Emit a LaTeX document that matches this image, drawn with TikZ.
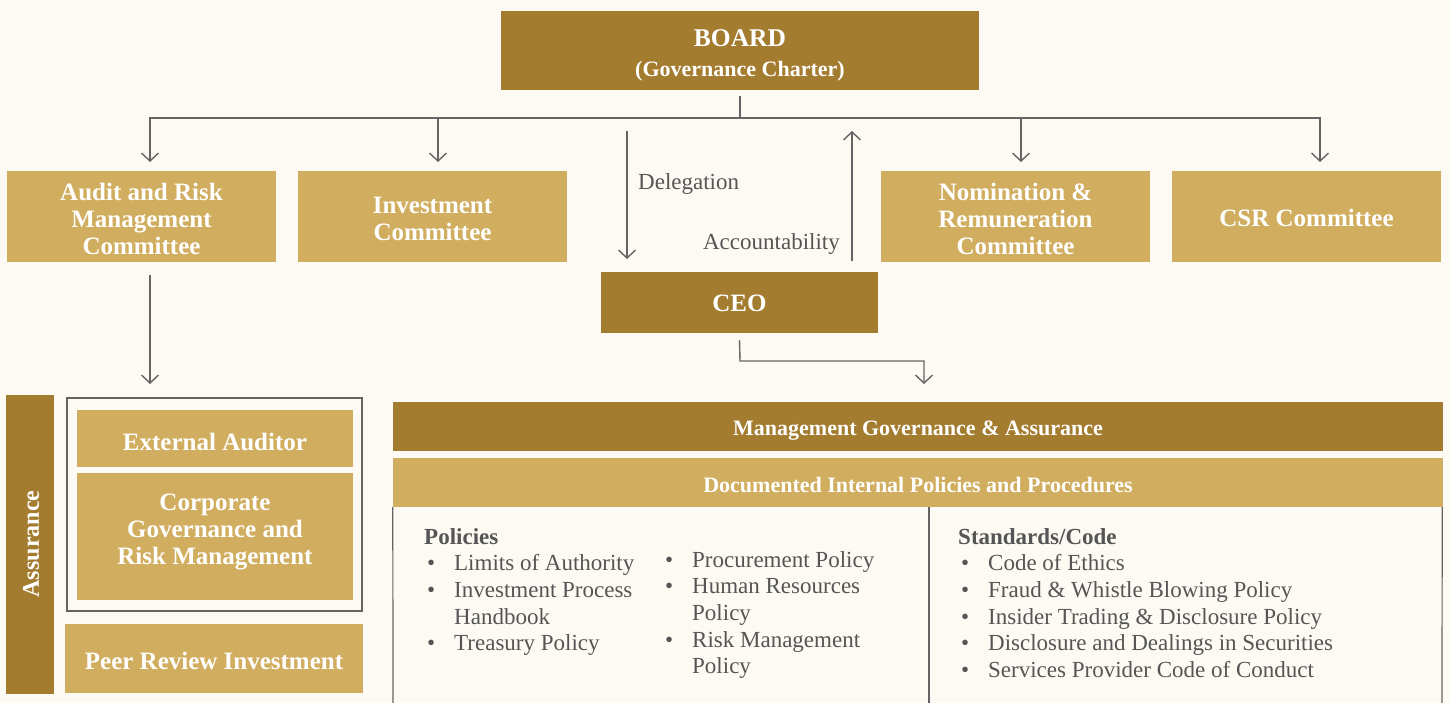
\documentclass[tikz,border=0pt]{standalone}
\usepackage{fontspec}
\setmainfont{Liberation Serif}
\usetikzlibrary{arrows.meta}
\definecolor{dgold}{HTML}{A47C2F}
\definecolor{lgold}{HTML}{D1AE5F}
\definecolor{bgc}{HTML}{FCFAF3}
\definecolor{txt}{HTML}{555555}
\definecolor{lin}{HTML}{646464}
\newcommand{\bul}{\hspace{3pt}\textbullet}
\begin{document}
\begin{tikzpicture}[x=1pt,y=-1pt,
  box/.style={inner sep=0pt, align=center, text=white, font=\bfseries\fontsize{25}{27}\selectfont},
  dbox/.style={box, fill=dgold},
  lbox/.style={box, fill=lgold},
  bandtxt/.style={box, font=\bfseries\fontsize{22}{26}\selectfont},
  band/.style={inner sep=0pt, minimum width=1050pt, minimum height=49pt},
  comm/.style={lbox, minimum width=269pt, minimum height=91pt},
  conn/.style={draw=lin, line width=1.4pt},
  arr/.style={conn, -{Straight Barb[length=8pt,width=17pt,line width=1.4pt]}},
  lbl/.style={text=txt, font=\fontsize{23}{26.7}\selectfont, inner sep=0pt},
  frame/.style={draw=lin, line width=1.2pt},
]
\fill[bgc] (0,0) rectangle (1450,703);
\useasboundingbox (0,0) rectangle (1450,703);

% Board
\node[dbox, minimum width=478pt, minimum height=79pt] (board) at (740,50.5) {};
\node[box, font=\bfseries\fontsize{22}{30}\selectfont] (boardt) at ([yshift=-5pt]board.center)
  {{\fontsize{25.5}{30}\selectfont BOARD}\\(Governance Charter)};

% Committees
\node[comm] (audit) at (141.5,216.5) {};
\node[comm] (invest) at (432.5,216.5) {};
\node[comm] (nomin) at (1015.5,216.5) {};
\node[comm] (csr) at (1306.5,216.5) {};
\node[box] (auditt) at ([yshift=-2pt]audit.center) {Audit and Risk\\Management\\Committee};
\node[box] (investt) at ([yshift=-2pt]invest.center) {Investment\\Committee};
\node[box] (nomint) at ([yshift=-2pt]nomin.center) {Nomination \&\\Remuneration\\Committee};
\node[box] (csrt) at ([yshift=-1pt]csr.center) {CSR Committee};

% CEO
\node[dbox, minimum width=277pt, minimum height=61pt] (ceo) at (739.5,302.5) {};
\node[box] (ceot) at ([yshift=-1pt]ceo.center) {CEO};

% Board connectors
\coordinate (bus) at (740,118);
\coordinate (t1) at (150,162);
\coordinate (t2) at (438,162);
\coordinate (t3) at (1021,162);
\coordinate (t4) at (1320,162);
\draw[conn] ([yshift=-6pt]board.south) -- (bus);
\draw[arr] (bus) -| (t1);
\draw[arr] (bus) -| (t2);
\draw[arr] (bus) -| (t3);
\draw[arr] (bus) -| (t4);

% Delegation / Accountability
\coordinate (d0) at (627,131);
\coordinate (d1) at (627,259);
\coordinate (a0) at (852,261);
\coordinate (a1) at (852,131);
\draw[arr] (d0) -- (d1);
\draw[arr] (a0) -- (a1);
\node[lbl, anchor=base west] (dlab) at (638,190) {Delegation};
\node[lbl, anchor=base east] (alab) at (840,250) {Accountability};

% CEO to management
\coordinate (c1) at (740,361);
\coordinate (c2) at (924,384);
\draw[arr] ([yshift=-7pt]ceo.south) -- (c1) -| (c2);

% Audit to assurance
\coordinate (u0) at (150,275);
\coordinate (u1) at (150,384);
\draw[arr] (u0) -- (u1);

% Assurance column
\node[dbox, minimum width=48pt, minimum height=299pt] (assur) at (30,544.5) {};
\node[box, rotate=90, font=\bfseries\fontsize{24}{27}\selectfont] (assurt) at (31,544) {Assurance};
\node[frame, minimum width=295pt, minimum height=213pt, inner sep=0pt] (grp) at (214.5,504.5) {};
\node[lbox, minimum width=276pt, minimum height=57pt] (ext) at (215,438.5) {};
\node[box] (extt) at ([yshift=-3pt]ext.center) {External Auditor};
\node[lbox, minimum width=276pt, minimum height=127pt] (corp) at (215,536.5) {};
\node[box] (corpt) at (215,532) {Corporate\\Governance and\\Risk Management};
\node[lbox, minimum width=298pt, minimum height=69pt] (peer) at (214,658.5) {};
\node[box] (peert) at ([yshift=-2pt]peer.center) {Peer Review Investment};

% Management bands
\node[band, fill=dgold] (mgmt) at (918,426.5) {};
\node[bandtxt] (mgmtt) at ([yshift=-4pt]mgmt.center) {Management Governance \& Assurance};
\node[band, fill=lgold] (docs) at (918,482.5) {};
\node[bandtxt] (docst) at ([yshift=-2pt]docs.center) {Documented Internal Policies and Procedures};

% Content frame
\draw[frame] (docs.south west) -- (393,703);
\draw[frame] ([xshift=-1pt]docs.south east) -- (1442,703);
\coordinate (dv) at (929,507);
\draw[frame] (dv) -- (929,703);

% Policies columns
\node[lbl, anchor=base west] (pol1) at (424,544) {%
  \begin{tabular}[t]{@{}p{30pt}@{}l@{}}
  \multicolumn{2}{@{}l@{}}{\bfseries Policies}\\
  \bul & Limits of Authority\\
  \bul & Investment Process\\
       & Handbook\\
  \bul & Treasury Policy
  \end{tabular}};
\node[lbl, anchor=base west] (pol2) at (662,567) {%
  \begin{tabular}[t]{@{}p{30pt}@{}l@{}}
  \bul & Procurement Policy\\
  \bul & Human Resources\\
       & Policy\\
  \bul & Risk Management\\
       & Policy
  \end{tabular}};
\node[lbl, anchor=base west] (std) at (958,544) {%
  \begin{tabular}[t]{@{}p{30pt}@{}l@{}}
  \multicolumn{2}{@{}l@{}}{\bfseries Standards/Code}\\
  \bul & Code of Ethics\\
  \bul & Fraud \& Whistle Blowing Policy\\
  \bul & Insider Trading \& Disclosure Policy\\
  \bul & Disclosure and Dealings in Securities\\
  \bul & Services Provider Code of Conduct
  \end{tabular}};
\end{tikzpicture}
\end{document}
